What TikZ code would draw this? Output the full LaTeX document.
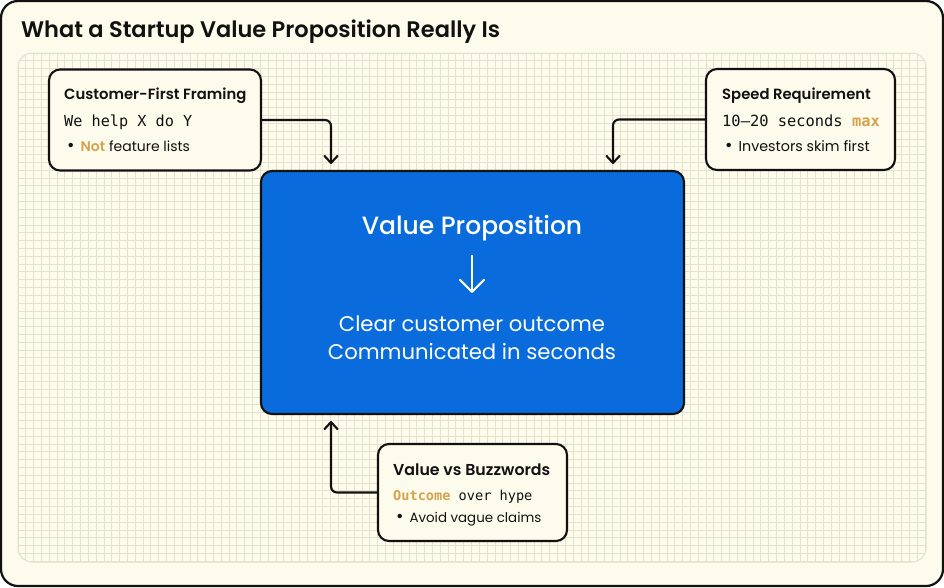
\documentclass[tikz,border=0pt]{standalone}
\usepackage{fontspec}
\setmainfont{Poppins}
\newfontfamily\semi{Poppins SemiBold}
\newfontfamily\med{Poppins Medium}
\newfontfamily\monof{DejaVu Sans Mono}
\definecolor{paper}{HTML}{FDFBEB}
\definecolor{gridc}{HTML}{E4E1CD}
\definecolor{ink}{HTML}{111111}
\definecolor{blue}{HTML}{0A6CDC}
\definecolor{gold}{HTML}{D6A24E}
\newcommand{\fs}[1]{\fontsize{#1}{#1}\selectfont}
\newcommand{\bul}{{\fs{18}•}\hspace{6pt}}
\usetikzlibrary{arrows.meta,calc}
\tikzset{
  x=1pt,y=-1pt,
  card/.style={draw=ink,line width=2.1pt,fill=paper,rounded corners=11pt,minimum width=#1,inner sep=0pt,outer sep=0pt,anchor=north west},
  heading/.style={anchor=base west,inner sep=0pt,text=ink,font=\semi\fs{14.8}},
  codeline/.style={anchor=base west,inner sep=0pt,text=ink,font=\monof\fs{15.2}},
  bulletline/.style={anchor=base west,inner sep=0pt,text=ink,font=\fs{14}},
  white text/.style={anchor=base,inner sep=0pt,text=white},
  flow/.style={draw=ink,line width=2.1pt,rounded corners=6pt,-{Straight Barb[length=7pt,width=13pt,line width=2.1pt,round]}},
}
\begin{document}
\begin{tikzpicture}
\useasboundingbox (0,0) rectangle (944,587);
\fill[white] (0,0) rectangle (944,587);
\draw[ink,line width=2.2pt,fill=paper,rounded corners=17pt] (1,1) rectangle (943,586);
\begin{scope}
\clip[rounded corners=14pt] (18,53) rectangle (926,562);
\foreach \i in {0,...,116} \draw[gridc,line width=1pt] ({18+7.82*\i},53) -- ({18+7.82*\i},562);
\foreach \i in {0,...,65} \draw[gridc,line width=1pt] (18,{53+7.82*\i}) -- (926,{53+7.82*\i});
\end{scope}
\draw[gridc,line width=1pt,rounded corners=14pt] (18,53) rectangle (926,562);
\node[anchor=base west,inner sep=0pt,text=ink,font=\semi\fs{22.5}] (title) at (21,37) {What a Startup Value Proposition Really Is};

\node[draw=ink,line width=2.1pt,fill=blue,rounded corners=11pt,minimum width=423pt,minimum height=243pt,inner sep=0pt,outer sep=0pt,anchor=north west] (main) at (261,171) {};
\node[card=212pt,minimum height=101pt] (cust) at (49,69.5) {};
\node[card=189pt,minimum height=101pt] (speed) at (706,69) {};
\node[card=189pt,minimum height=97pt] (buzz) at (378,444) {};

\coordinate (a1) at ($(main.north west)+(70,-7)$);
\coordinate (a2) at ($(main.north west)+(352,-7)$);
\coordinate (a3) at ($(main.south west)+(70,7)$);
\draw[flow] (cust.east) -| (a1);
\draw[flow] (speed.west) -| (a2);
\draw[flow] (buzz.west) -| (a3);

\node[heading] (h1) at (64,99.5) {Customer-First Framing};
\node[codeline] (c1) at (64,126) {We help X do Y};
\node[bulletline] (b1) at (67,151.5) {\bul\textcolor{gold}{\semi Not} feature lists};

\node[heading] (h2) at (722,99.5) {Speed Requirement};
\node[codeline,font=\monof\fs{15.4}] (c2) at (722,126) {10–20 seconds \textcolor{gold}{\bfseries max}};
\node[bulletline,font=\fs{14.3}] (b2) at (725,151.5) {\bul Investors skim first};

\node[heading,font=\semi\fs{15.8}] (h3) at (393,475) {Value vs Buzzwords};
\node[codeline,font=\monof\fs{13.6}] (c3) at (393,500) {\textcolor{gold}{\bfseries Outcome} over hype};
\node[bulletline,font=\fs{13.4}] (b3) at (396,522.5) {\bul Avoid vague claims};

\node[white text,font=\med\fs{25}] (t1) at (472,234) {Value Proposition};
\coordinate (ar1) at (472,255);
\coordinate (ar2) at (472,293);
\draw[white,line width=2.2pt,-{Straight Barb[length=12pt,width=24pt,line width=2.2pt,round]}] (ar1) -- (ar2);
\node[white text,font=\fs{21.2}] (t2) at (472,331) {Clear customer outcome};
\node[white text,font=\fs{21.2}] (t3) at (472,359) {Communicated in seconds};
\end{tikzpicture}
\end{document}
